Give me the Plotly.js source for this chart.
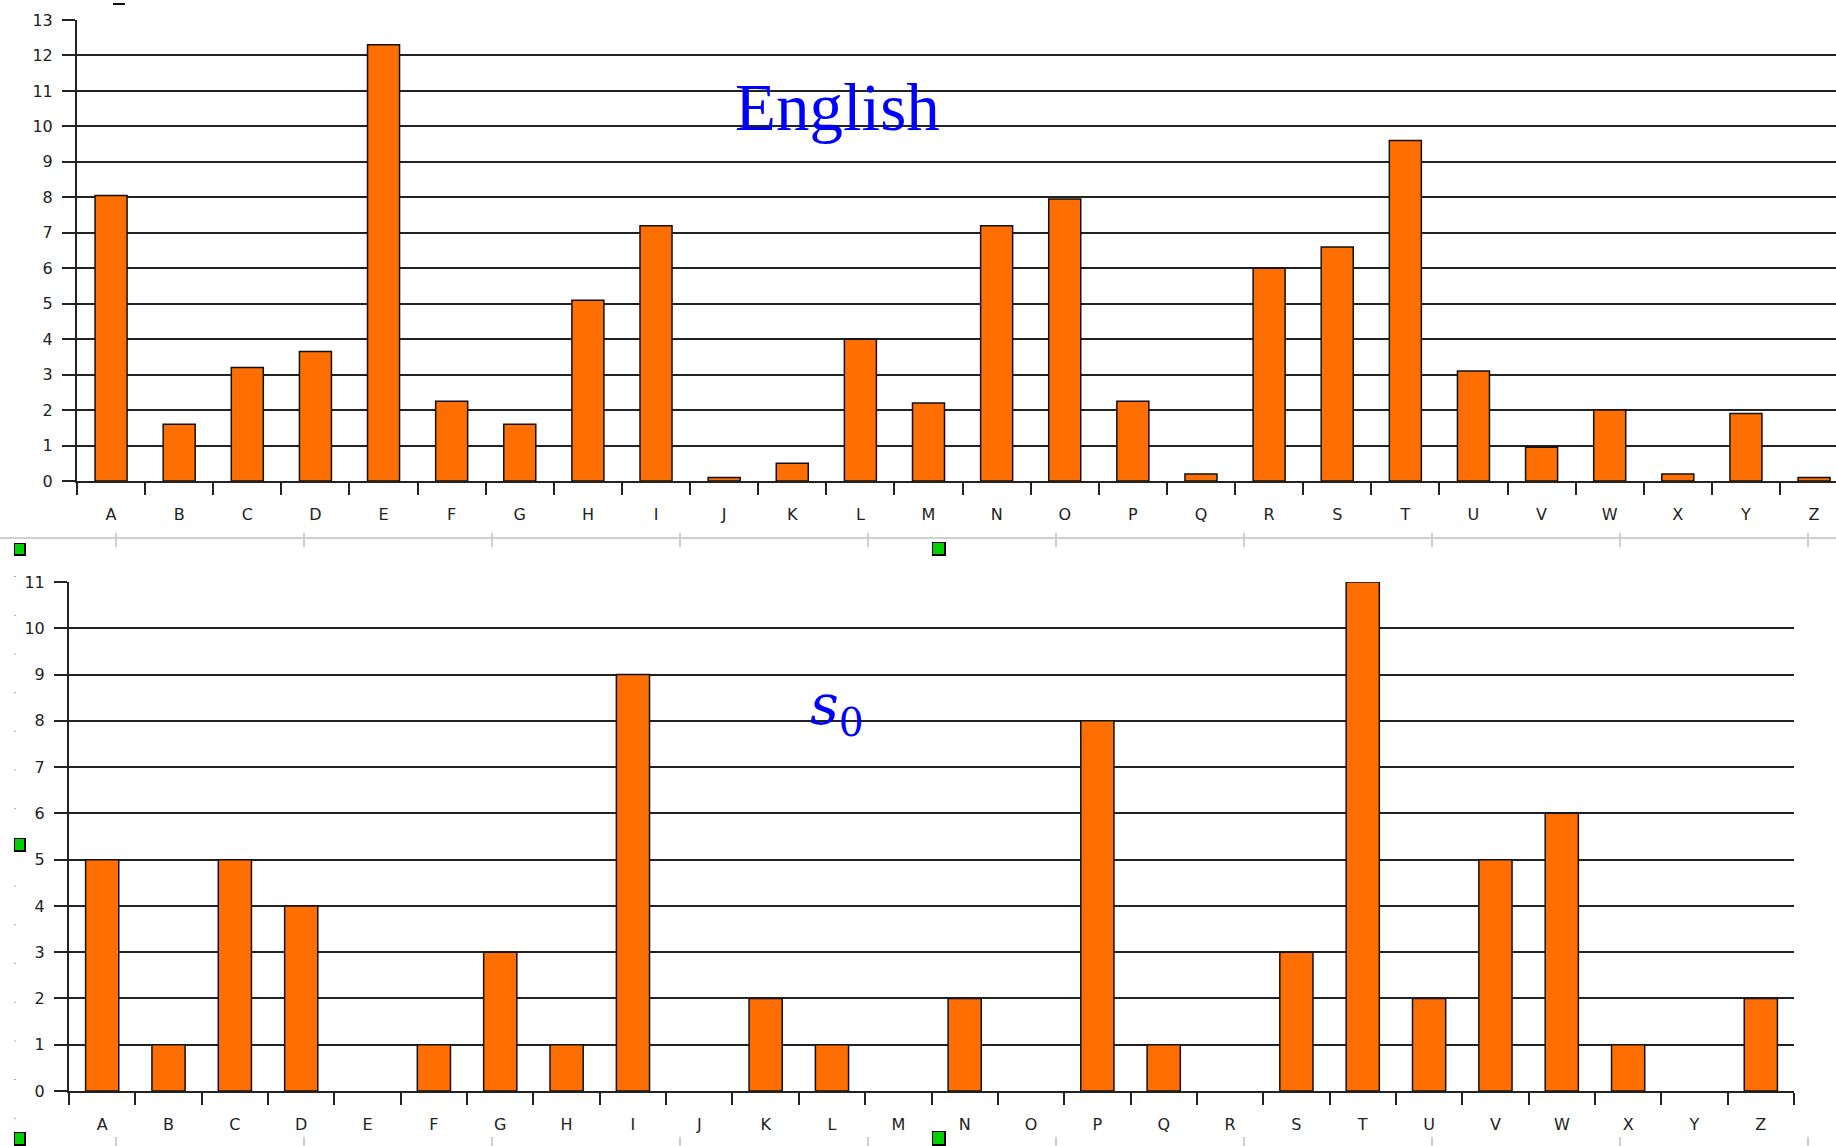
<!DOCTYPE html>
<html>
<head>
<meta charset="utf-8">
<script src="https://cdn.plot.ly/plotly-3.0.1.min.js"></script>
<style>html,body{margin:0;padding:0;background:#fff;overflow:hidden;}#chart{width:1836px;height:1146px;}</style>
</head>
<body>
<div id="chart"></div>
<script>
// ---- data ----
const letters = ["A","B","C","D","E","F","G","H","I","J","K","L","M","N","O","P","Q","R","S","T","U","V","W","X","Y","Z"];
const englishFreq = [8.05,1.6,3.2,3.65,12.3,2.25,1.6,5.1,7.2,0.1,0.5,4.0,2.2,7.2,7.95,2.25,0.2,6.0,6.6,9.6,3.1,0.95,2.0,0.2,1.9,0.1];
const s0Counts = [5,1,5,4,0,1,3,1,9,0,2,1,0,2,0,8,1,0,3,11,2,5,6,1,0,2];
const topTitle = "English";
const bottomTitle = "<i>s</i><sub>0</sub>";

// ---- geometry helpers (page pixels -> paper) ----
const W = 1836, H = 1146;
const px = x => x / W;
const py = y => 1 - y / H;

const orange = "#ff6e00";
const gridCol = "#222";
const tickFont = {family: "DejaVu Sans", size: 16, color: "#222"};

// zero-valued bars are not outlined in the reference
const outlineWidths = vals => vals.map(v => (v === 0 ? 0 : 1.5));

const traces = [
  {type: "bar", x: letters, y: englishFreq, xaxis: "x", yaxis: "y", width: 0.47,
   marker: {color: orange, line: {color: "#111", width: outlineWidths(englishFreq)}}, hoverinfo: "x+y"},
  {type: "bar", x: letters, y: s0Counts, xaxis: "x2", yaxis: "y2", width: 0.5,
   marker: {color: orange, line: {color: "#111", width: outlineWidths(s0Counts)}}, hoverinfo: "x+y"}
];

function xAxis(domain, range, anchor) {
  return {domain: domain, anchor: anchor, type: "category", range: range,
    tickson: "boundaries", ticks: "outside", ticklen: 12, tickwidth: 2, tickcolor: "#222",
    showgrid: false, showline: true, linecolor: "#222", linewidth: 2,
    tickfont: tickFont, ticklabelstandoff: 18, fixedrange: true};
}
function yAxis(domain, range, anchor) {
  return {domain: domain, anchor: anchor, range: range, dtick: 1, tick0: 0,
    ticks: "outside", ticklen: 13, tickwidth: 2, tickcolor: "#222",
    showgrid: true, gridcolor: gridCol, gridwidth: 2, zeroline: false,
    showline: true, linecolor: "#222", linewidth: 2,
    tickfont: tickFont, ticklabelstandoff: 6, fixedrange: true};
}

const shapes = [];
// top stray mark
shapes.push({type: "line", xref: "paper", yref: "paper", x0: px(113), x1: px(125), y0: py(4), y1: py(4), line: {color: "#111", width: 2}});
// gray rulers
const rulerCol = "#cfcfcf";
shapes.push({type: "line", xref: "paper", yref: "paper", x0: 0, x1: 1, y0: py(538), y1: py(538), line: {color: rulerCol, width: 2}});
for (let k = 0; k < 10; k++) {
  const x = 116 + 188 * k;
  shapes.push({type: "line", xref: "paper", yref: "paper", x0: px(x), x1: px(x), y0: py(533), y1: py(547), line: {color: rulerCol, width: 2}});
  shapes.push({type: "line", xref: "paper", yref: "paper", x0: px(x), x1: px(x), y0: py(1137), y1: py(1146), line: {color: rulerCol, width: 2}});
}
// dotted vertical ruler on the left of the lower chart
shapes.push({type: "line", xref: "paper", yref: "paper", x0: px(15), x1: px(15), y0: py(576), y1: py(1121), line: {color: "#aaa", width: 2, dash: "1px,37.7px"}});
// green handles (with dark shadow)
const handles = [[14,543,26,556],[932,542,946,556],[14,838,26,852],[14,1132,26,1146],[932,1131,946,1146]];
handles.forEach(h => {
  shapes.push({type: "rect", xref: "paper", yref: "paper", x0: px(h[0]), x1: px(h[2]), y0: py(h[1]), y1: py(h[3]),
    fillcolor: "#000", line: {width: 0}});
  shapes.push({type: "rect", xref: "paper", yref: "paper", x0: px(h[0] + 1), x1: px(h[2] - 2), y0: py(h[1] + 1), y1: py(h[3] - 2),
    fillcolor: "#00d000", line: {width: 0}});
});

const layout = {
  width: W, height: H, autosize: false,
  margin: {l: 0, r: 0, t: 0, b: 0, pad: 0},
  paper_bgcolor: "#fff", plot_bgcolor: "#fff",
  showlegend: false, bargap: 0,
  xaxis: xAxis([px(77), 1], [-0.5, -0.5 + (1836 - 77) / 68.12], "y"),
  yaxis: yAxis([py(481), py(20)], [0, 13], "x"),
  xaxis2: xAxis([px(69), px(1794)], [-0.5, 25.5], "y2"),
  yaxis2: yAxis([py(1091), py(582)], [0, 11], "x2"),
  shapes: shapes,
  annotations: [
    {text: topTitle, xref: "paper", yref: "paper", x: px(837), y: py(107), xanchor: "center", yanchor: "middle",
     showarrow: false, font: {family: "Liberation Serif", size: 67, color: "#0000ff"}},
    {text: bottomTitle, xref: "paper", yref: "paper", x: px(837), y: py(708), xanchor: "center", yanchor: "middle",
     showarrow: false, font: {family: "DejaVu Serif", size: 56, color: "#0000ff"}}
  ]
};

Plotly.newPlot("chart", traces, layout, {displayModeBar: false, staticPlot: true});
</script>
</body>
</html>
